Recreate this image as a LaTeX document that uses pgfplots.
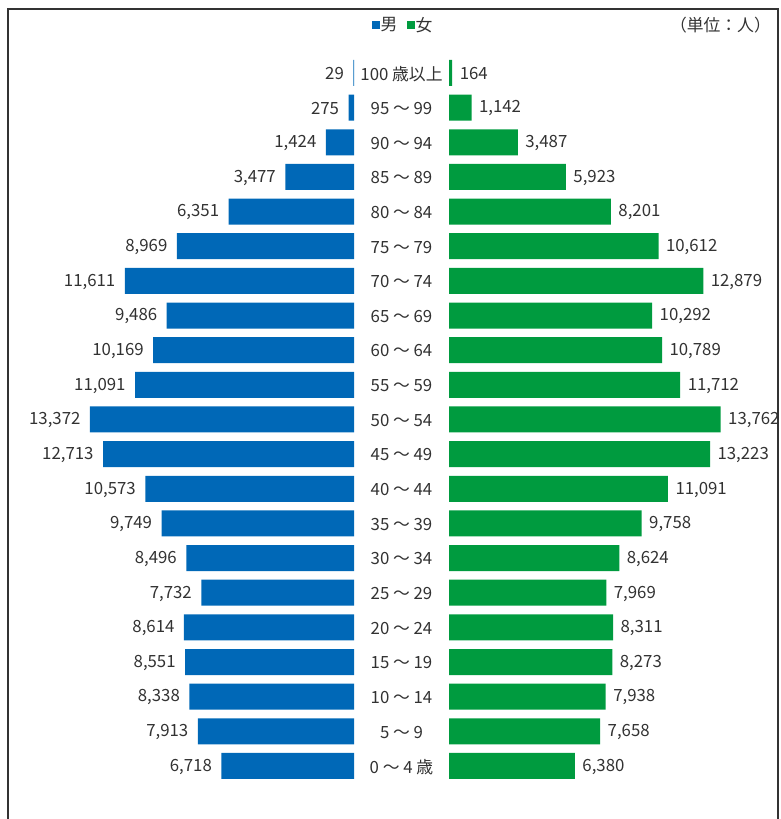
\documentclass[border=0pt]{standalone}
\usepackage{fontspec}
\setmainfont{Noto Sans CJK JP}
\usepackage{pgfplots}
\pgfplotsset{compat=1.18}
\definecolor{mblue}{RGB}{0,104,183}
\definecolor{fgreen}{RGB}{0,155,63}
\definecolor{txt}{RGB}{50,50,50}
\begin{document}
\begin{tikzpicture}[font=\fontsize{16.8}{19}\selectfont, text=txt]
\path[use as bounding box] (0pt,0pt) rectangle (781pt,819pt);
\draw[line width=1.4pt, black!80] (8pt,-2pt) -- (8pt,810pt) -- (778pt,810pt) -- (778pt,-2pt);
% legend and unit
\fill[mblue] (372pt,789.5pt) rectangle (380pt,797.5pt);
\node[anchor=west, inner sep=0pt] at (380.5pt,794pt) {男};
\fill[fgreen] (407pt,789.5pt) rectangle (415pt,797.5pt);
\node[anchor=west, inner sep=0pt] at (415.5pt,794pt) {女};
\node[anchor=east, inner sep=0pt] at (771pt,794pt) {（単位：人）};
\pgfplotsset{
  pyr/.style={
    scale only axis, width=276.4pt, height=727.65pt,
    xmin=0, xmax=14000, ymin=-0.5, ymax=20.5,
    xbar, bar width=0.75, axis line style={draw=none},
    xtick=\empty, major tick length=0pt, clip=false,
    point meta=x,
    nodes near coords={\pgfmathprintnumber[assume math mode=true,fixed,precision=0,1000 sep={,}]{\pgfplotspointmeta}},
    every node near coord/.append style={font=\fontsize{16.8}{19}\selectfont, text=txt, yshift=-0.8pt},
  }
}
\begin{axis}[pyr, at={(354pt,35.7pt)}, anchor=south east, x dir=reverse, ytick=\empty,
  every node near coord/.append style={anchor=east, xshift=-6pt}]
\addplot[fill=mblue, draw=none] coordinates {
(6718,0) (7913,1) (8338,2) (8551,3) (8614,4) (7732,5) (8496,6) (9749,7) (10573,8) (12713,9) (13372,10)
(11091,11) (10169,12) (9486,13) (11611,14) (8969,15) (6351,16) (3477,17) (1424,18) (275,19) (29,20)};
\end{axis}
\begin{axis}[pyr, at={(449pt,35.7pt)}, anchor=south west,
  ytick={0,...,20},
  yticklabels={0 ～ 4 歳, 5 ～ 9, 10 ～ 14, 15 ～ 19, 20 ～ 24, 25 ～ 29, 30 ～ 34, 35 ～ 39, 40 ～ 44, 45 ～ 49, 50 ～ 54, 55 ～ 59, 60 ～ 64, 65 ～ 69, 70 ～ 74, 75 ～ 79, 80 ～ 84, 85 ～ 89, 90 ～ 94, 95 ～ 99, 100 歳以上},
  yticklabel style={anchor=center, xshift=-47.5pt, yshift=-0.8pt, font=\fontsize{16.8}{19}\selectfont, text=txt},
  every node near coord/.append style={anchor=west, xshift=4pt}]
\addplot[fill=fgreen, draw=none] coordinates {
(6380,0) (7658,1) (7938,2) (8273,3) (8311,4) (7969,5) (8624,6) (9758,7) (11091,8) (13223,9) (13762,10)
(11712,11) (10789,12) (10292,13) (12879,14) (10612,15) (8201,16) (5923,17) (3487,18) (1142,19) (164,20)};
\end{axis}
\end{tikzpicture}
\end{document}
